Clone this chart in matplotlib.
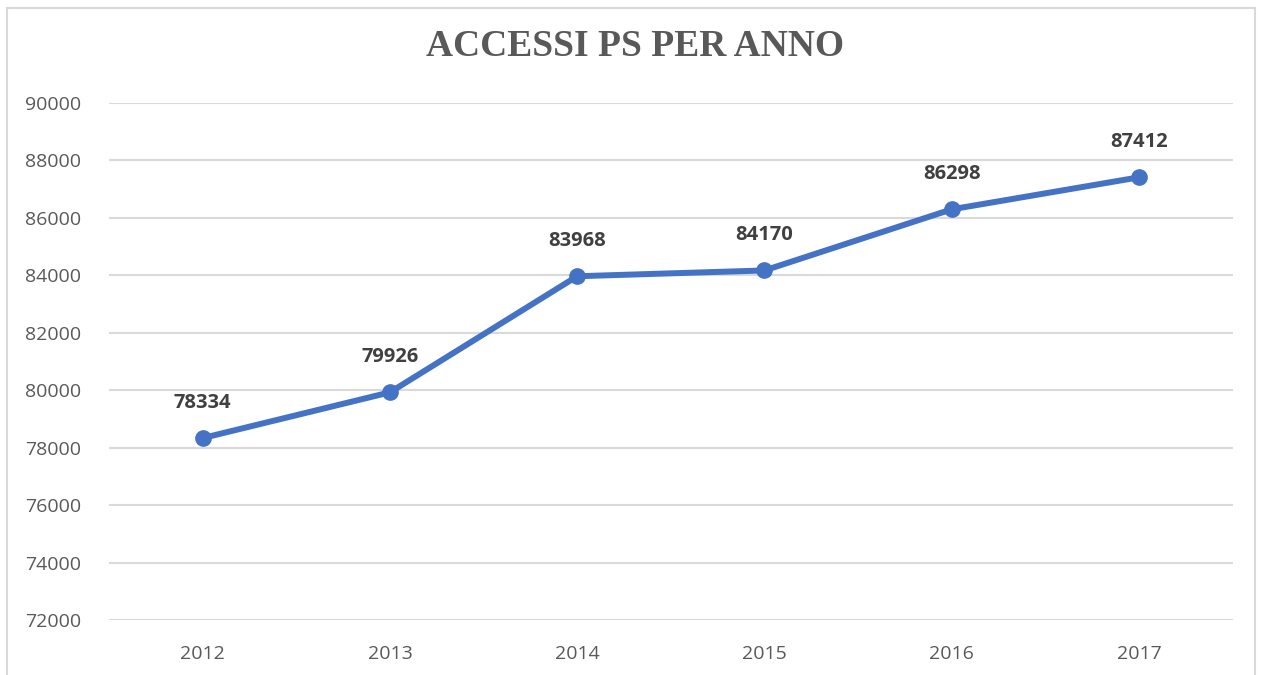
import matplotlib.pyplot as plt
from matplotlib.patches import Rectangle

anni = ['2012', '2013', '2014', '2015', '2016', '2017']
accessi = [78334, 79926, 83968, 84170, 86298, 87412]
yticks = list(range(72000, 90001, 2000))

grigio = '#595959'
blu = '#4472C4'

fig = plt.figure(figsize=(12.61, 6.75), dpi=100)
fig.patch.set_facecolor('white')

# cornice esterna del grafico
fig.patches.append(Rectangle((7 / 1261, -0.01), 1248 / 1261, 1 - 8 / 675 + 0.01,
                             transform=fig.transFigure, fill=False,
                             edgecolor='#D9D9D9', linewidth=1.5))

ax = fig.add_axes([109 / 1261, 1 - 620 / 675, 1123.6 / 1261, 517 / 675])
x = list(range(len(anni)))
ax.plot(x, accessi, color=blu, linewidth=4.3, marker='o', markersize=11,
        solid_capstyle='round', zorder=3)

for xi, v in zip(x, accessi):
    ax.annotate(str(v), (xi, v), xytext=(0, 18), textcoords='offset points',
                ha='center', va='bottom', fontsize=14.5, fontweight='bold',
                color='#404040', family='Open Sans')

ax.set_xlim(-0.5, 5.5)
ax.set_ylim(72000, 90000)
ax.set_yticks(yticks)
ax.set_yticklabels([str(t) for t in yticks])
ax.set_xticks(x)
ax.set_xticklabels(anni)
ax.grid(axis='y', color='#D9D9D9', linewidth=1.5)
ax.set_axisbelow(True)
for s in ax.spines.values():
    s.set_visible(False)
ax.tick_params(length=0, labelsize=14, labelcolor=grigio)
ax.tick_params(axis='y', pad=20)
ax.tick_params(axis='x', pad=18)
for lab in ax.get_xticklabels() + ax.get_yticklabels():
    lab.set_family('Open Sans')

fig.text(635 / 1261, 1 - 47 / 675, 'ACCESSI PS PER ANNO', ha='center', va='center',
         fontsize=27, fontweight='bold', color=grigio, family='Liberation Serif')

fig.savefig('out.png', dpi=100)
